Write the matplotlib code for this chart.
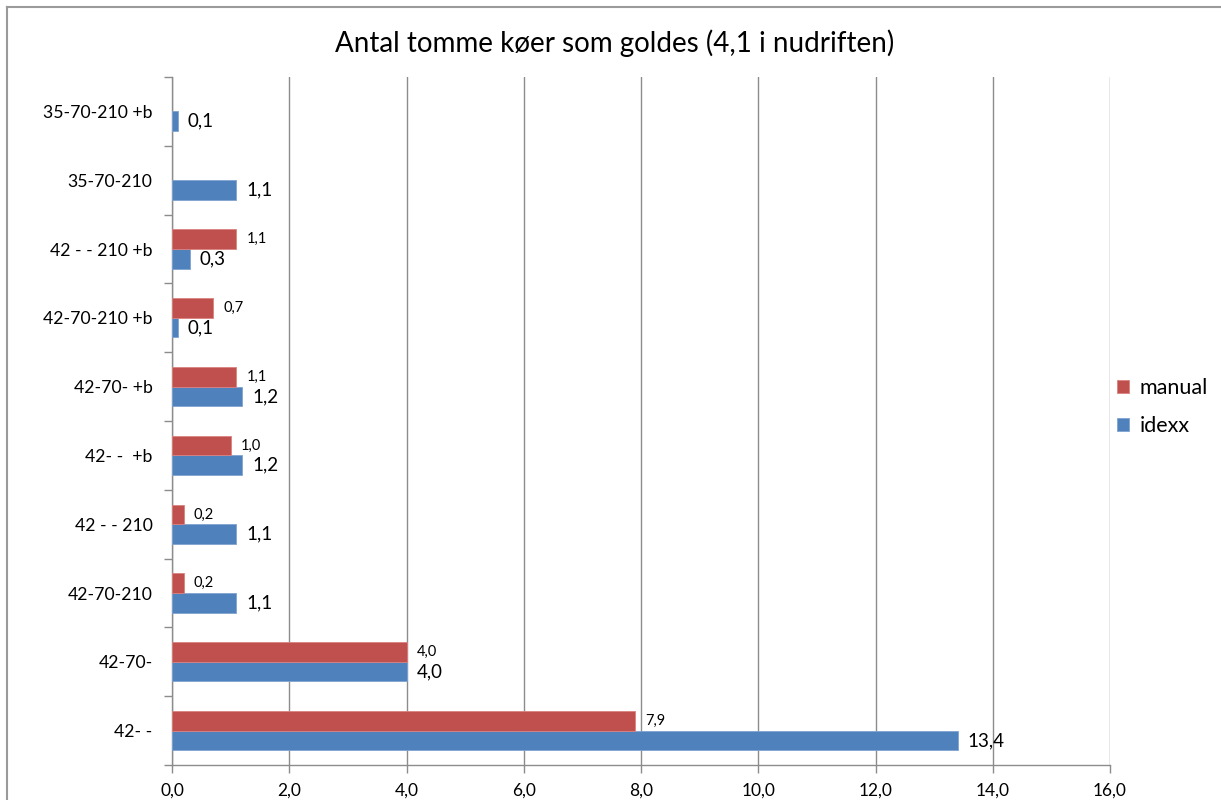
import matplotlib.pyplot as plt
from matplotlib.lines import Line2D
from matplotlib.transforms import ScaledTranslation
import numpy as np

plt.rcParams['font.family'] = ['Lato', 'DejaVu Sans']

categories = ['42- -', '42-70-', '42-70-210', '42 - - 210', '42- -  +b',
              '42-70- +b', '42-70-210 +b', '42 - - 210 +b', '35-70-210',
              '35-70-210 +b']
idexx = [13.4, 4.0, 1.1, 1.1, 1.2, 1.2, 0.1, 0.3, 1.1, 0.1]
manual = [7.9, 4.0, 0.2, 0.2, 1.0, 1.1, 0.7, 1.1, None, None]
x_ticks = [0, 2, 4, 6, 8, 10, 12, 14, 16]

red = '#C0504D'
blue = '#4F81BD'
grid_col = '#8C8C8C'


def comma(v):
    return f'{v:.1f}'.replace('.', ',')


fig = plt.figure(figsize=(12.21, 8), dpi=100)
ax = fig.add_axes([172 / 1221, 35 / 800, 938 / 1221, 688 / 800])

y = np.arange(len(categories))
h = 0.285
# value labels sit 10 px right of the bar ends
off = ax.transData + ScaledTranslation(10 / 100, 0, fig.dpi_scale_trans)

ax.barh(y - h / 2, idexx, height=h, color=blue, edgecolor='#7FA3D1',
        linewidth=0.6, label='idexx', zorder=3)
for yi, v in zip(y, idexx):
    ax.text(v, yi - h / 2, comma(v), fontsize=13.5, va='center', ha='left',
            zorder=4, transform=off)

man_y = [yi for yi, v in zip(y, manual) if v is not None]
man_v = [v for v in manual if v is not None]
ax.barh(np.array(man_y) + h / 2, man_v, height=h, color=red,
        edgecolor='#D98280', linewidth=0.6, label='manual', zorder=3)
for yi, v in zip(man_y, man_v):
    ax.text(v, yi + h / 2, comma(v), fontsize=10.5, va='center', ha='left',
            zorder=4, transform=off)

ax.set_xlim(0, 16)
ax.set_ylim(-0.5, len(categories) - 0.5)
ax.set_xticks(x_ticks)
ax.set_xticklabels([comma(v) for v in x_ticks], fontsize=12.5)
ax.set_yticks(y)
ax.set_yticklabels(categories, fontsize=12.7)
ax.set_yticks(np.arange(-0.5, len(categories), 1), minor=True)
ax.tick_params(axis='y', which='major', length=0, pad=14)
ax.tick_params(axis='y', which='minor', length=6, color=grid_col, width=1)
ax.tick_params(axis='x', length=6, color=grid_col, width=1, pad=7)

ax.grid(axis='x', color=grid_col, linewidth=1, zorder=0)
for s in ['top', 'right']:
    ax.spines[s].set_visible(False)
for s in ['left', 'bottom']:
    ax.spines[s].set_color(grid_col)
    ax.spines[s].set_linewidth(1)

fig.text(615 / 1221, 1 - 43 / 800, 'Antal tomme køer som goldes (4,1 i nudriften)',
         ha='center', va='center', fontsize=20)

handles, labels = ax.get_legend_handles_labels()
fig.legend(handles[::-1], labels[::-1], loc='center left',
           bbox_to_anchor=(1098 / 1221, 1 - 407 / 800), frameon=False,
           fontsize=15.5, handlelength=0.55, handleheight=0.55,
           handletextpad=0.5, labelspacing=0.85)

# outer chart frame (top and left edges)
fig.add_artist(Line2D([7 / 1221, 1], [1 - 7 / 800, 1 - 7 / 800],
                      color='#9A9A9A', linewidth=1.5))
fig.add_artist(Line2D([7 / 1221, 7 / 1221], [0, 1 - 7 / 800],
                      color='#9A9A9A', linewidth=1.5))

fig.savefig('out.png', dpi=100)
